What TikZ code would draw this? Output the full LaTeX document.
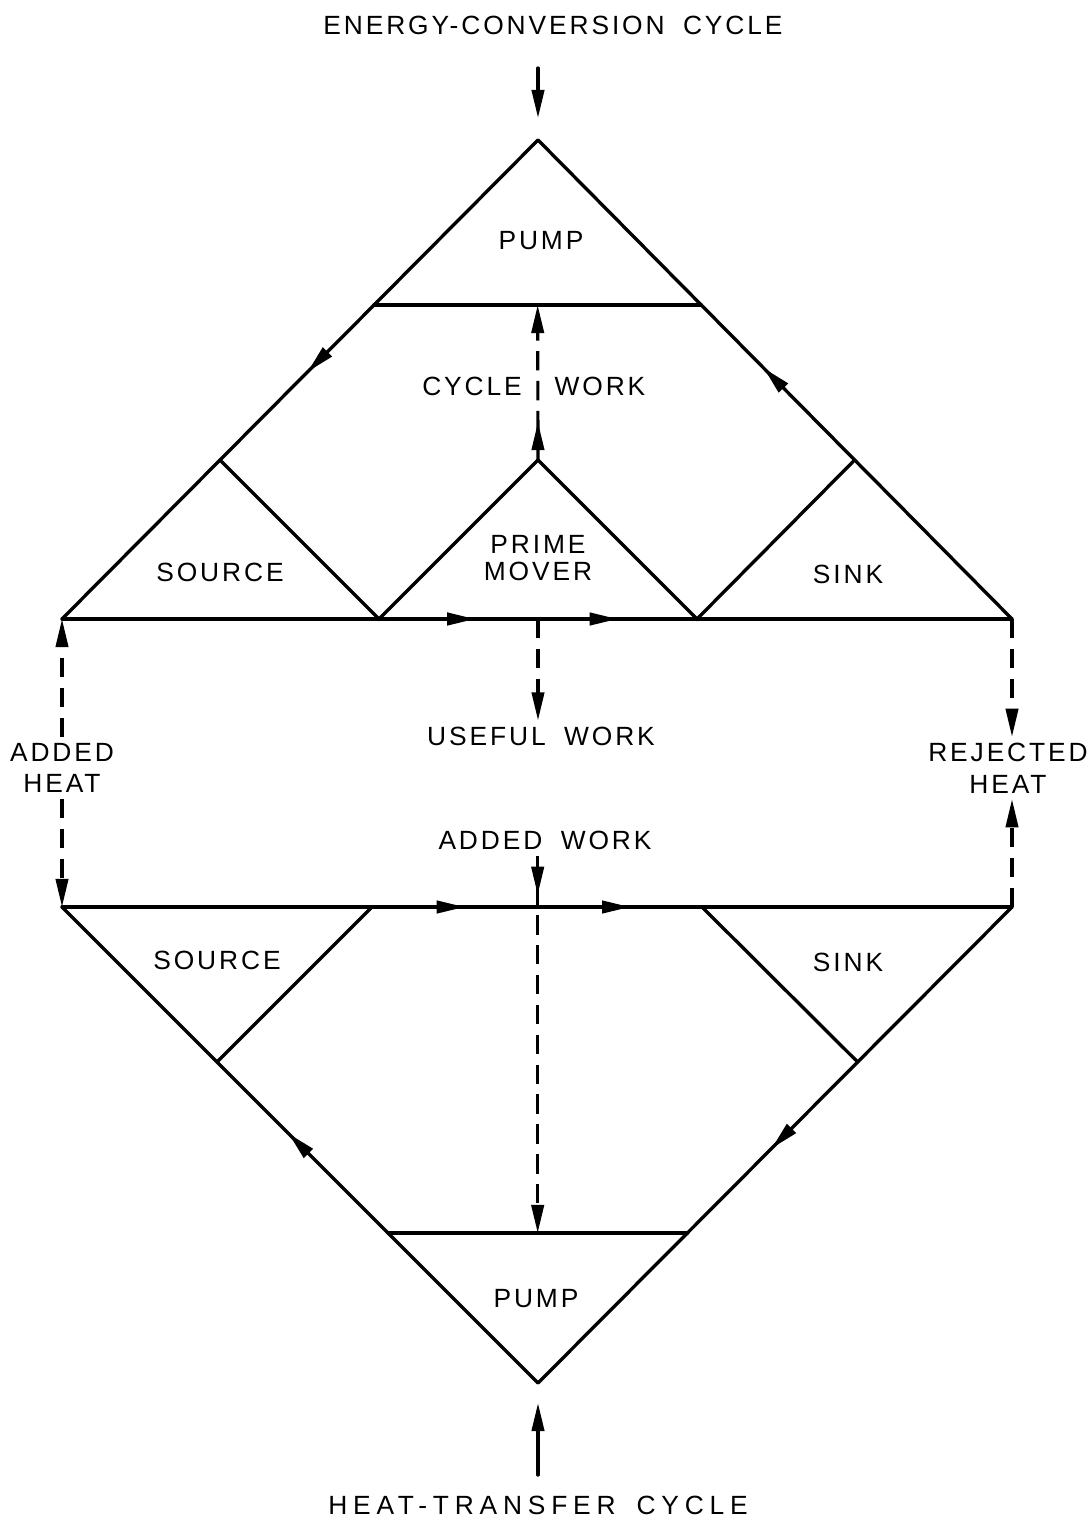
\documentclass[tikz,border=0pt]{standalone}
\usepackage{fontspec}
\newfontfamily\lettering{Liberation Sans}[LetterSpace=11,WordSpace=1.8]
\newfontfamily\widelettering{Liberation Sans}[LetterSpace=22,WordSpace=1.6]
\usetikzlibrary{arrows.meta,calc,decorations.markings}

\begin{document}
\begin{tikzpicture}
[
	x=0.02cm, y=-0.02cm,
	>={Triangle[length=16pt,width=7pt]},
	flow/.style={line width=1.9pt,line cap=round},
	work/.style={line width=1.8pt,dash pattern=on 11pt off 6pt},
	lbl/.style={font=\lettering\fontsize{15}{18}\selectfont,align=center},
	midarrow/.style={postaction={decorate,decoration={markings,mark=at position #1 with {\arrow{>}}}}}
]
	\useasboundingbox (0,0) rectangle (1090,1521);

	% corners of the two diamonds
	\coordinate (top) at (538,140);
	\coordinate (ul) at (62,619);
	\coordinate (ur) at (1012,619);
	\coordinate (ll) at (62,907);
	\coordinate (lr) at (1012,907);
	\coordinate (bot) at (538,1383);

	% energy-conversion cycle
	\coordinate (pumpl) at ($(top)!0.3445!(ul)$);
	\coordinate (pumpr) at ($(top)!0.3445!(ur)$);
	\coordinate (pumpmid) at ($(pumpl)!0.5!(pumpr)$);
	\coordinate (srctop) at ($(top)!0.668!(ul)$);
	\coordinate (sinktop) at ($(top)!0.668!(ur)$);
	\coordinate (pmtop) at (538,460);
	\coordinate (pml) at (379,619);
	\coordinate (pmr) at (697,619);

	\draw[flow,midarrow=0.484] (top) -- (ul);
	\draw[flow,midarrow=0.524] (ur) -- (top);
	\draw[flow,midarrow=0.435,midarrow=0.585] (ul) -- (ur);
	\draw[flow] (pumpl) -- (pumpr);
	\draw[flow] (srctop) -- (pml) -- (pmtop) -- (pmr) -- (sinktop);

	% heat-transfer cycle
	\coordinate (lsrcb) at ($(ll)!0.3256!(bot)$);
	\coordinate (lsrct) at (372,907);
	\coordinate (lsinkb) at ($(lr)!0.3256!(bot)$);
	\coordinate (lsinkt) at (702,907);
	\coordinate (lpumpl) at ($(bot)!0.315!(ll)$);
	\coordinate (lpumpr) at ($(bot)!0.315!(lr)$);
	\coordinate (lpumpmid) at ($(lpumpl)!0.5!(lpumpr)$);

	\draw[flow,midarrow=0.524] (bot) -- (ll);
	\draw[flow,midarrow=0.507] (lr) -- (bot);
	\draw[flow,midarrow=0.424,midarrow=0.598] (ll) -- (lr);
	\draw[flow] (lpumpl) -- (lpumpr);
	\draw[flow] (lsrcb) -- (lsrct);
	\draw[flow] (lsinkb) -- (lsinkt);

	% labels
	\node[lbl] (ectitle) at (553,25) {ENERGY-CONVERSION CYCLE};
	\node[lbl,font=\widelettering\fontsize{15}{18}\selectfont] (htitle) at (538,1505) {HEAT-TRANSFER CYCLE};
	\node[lbl] (pump) at (541,241) {PUMP};
	\node[lbl] (cyclew) at (472,386) {CYCLE};
	\node[lbl] (workw) at (600,386) {WORK};
	\node[lbl] (source) at (220,572) {SOURCE};
	\node[lbl] (prime) at (538,558) {PRIME\\[-3pt]MOVER};
	\node[lbl] (sink) at (848,574) {SINK};
	\node[lbl] (usefulwork) at (541,736) {USEFUL WORK};
	\node[lbl] (addheat) at (62,768) {ADDED\\HEAT};
	\node[lbl] (rejheat) at (1008,768) {REJECTED\\HEAT};
	\node[lbl] (addedwork) at (545,840) {ADDED WORK};
	\node[lbl] (lsource) at (217,960) {SOURCE};
	\node[lbl] (lsink) at (848,962) {SINK};
	\node[lbl] (lpump) at (536,1299) {PUMP};

	% cycle inputs
	\coordinate (ecin) at (538,68);
	\coordinate (htin) at (538,1475);
	\draw[flow,->,shorten >=0.44cm] (ecin) -- (top);
	\draw[flow,->,shorten >=0.4cm] (htin) -- (bot);

	% work and heat flows
	\draw[work,->,midarrow=0.245] (pmtop) -- (pumpmid);
	\draw[work,->] (pml -| pmtop) -- (pmtop |- usefulwork.north);
	\draw[work,->,midarrow=0.104] (lpumpmid |- addedwork.south) -- (lpumpmid);
	\draw[work,->] (ul |- addheat.north) -- (ul);
	\draw[work,->] (ul |- addheat.south) -- (ll);
	\draw[work,->] (ur) -- (ur |- rejheat.north);
	\draw[work,->] (lr) -- (lr |- rejheat.south);

\end{tikzpicture}
\end{document}
